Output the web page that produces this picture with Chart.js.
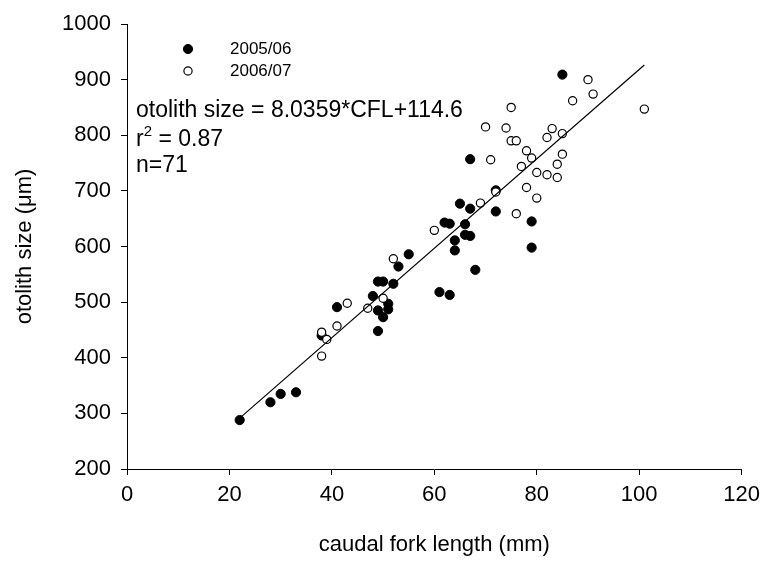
<!DOCTYPE html>
<html>
<head>
<meta charset="utf-8">
<title>otolith size vs caudal fork length</title>
<script src="https://cdn.jsdelivr.net/npm/chart.js@4.4.0/dist/chart.umd.min.js"></script>
<style>
    body { margin: 0; background: #fff; }
    canvas { display: block; }
</style>
</head>
<body>
<canvas id="myChart" width="767" height="563"></canvas>
<script>
// caudal fork length (mm) and otolith size (µm), season 2005/06
const cfl0506 = [22, 28, 30, 33, 38, 41, 48, 49, 50, 49, 51, 51, 50, 49, 52, 53, 55, 62,
    63, 66, 66, 67, 64, 64, 68, 61, 63, 65, 67, 72, 79, 79, 85, 67, 72];
const size0506 = [288, 320, 335, 338, 440, 491, 511, 537, 537, 485, 497, 487, 473, 448, 533, 564, 586, 643,
    641, 640, 621, 619, 611, 593, 558, 518, 513, 677, 668, 663, 645, 598, 909, 757, 701];

// season 2006/07
const cfl0607 = [38, 38, 39, 41, 43, 47, 50, 52, 60, 69, 76, 90, 91, 87, 75, 70, 74, 83,
    82, 85, 75, 76, 78, 79, 71, 85, 84, 77, 80, 82, 84, 78, 72, 80, 101];
const size0607 = [403, 446, 433, 457, 498, 489, 507, 578, 629, 678, 659, 900, 874, 862, 850, 815, 813, 812,
    796, 803, 790, 790, 772, 759, 756, 766, 748, 744, 733, 729, 724, 706, 698, 687, 847];

const seasons = ['2005/06', '2006/07'];

// regression over both seasons
const slope = 8.0359;
const intercept = 114.6;
const r2 = 0.87;
const nFish = 71;
const fitRange = [22, 101];

const xTicks = [0, 20, 40, 60, 80, 100, 120];
const yTicks = [200, 300, 400, 500, 600, 700, 800, 900, 1000];

const FONT = 'Liberation Sans, Arial, sans-serif';

function toPoints(xs, ys) {
    return xs.map((x, i) => ({ x: x, y: ys[i] }));
}

const fitLine = fitRange.map(x => ({ x: x, y: slope * x + intercept }));

// legend and regression text in the upper left of the plot
const notes = {
    id: 'notes',
    afterDatasetsDraw(chart) {
        const ctx = chart.ctx;
        const area = chart.chartArea;
        ctx.save();
        ctx.fillStyle = '#000';
        ctx.textBaseline = 'middle';

        // legend
        const lx = area.left + 61;
        const tx = area.left + 103;
        const rows = [area.top + 25, area.top + 47];
        chart.data.datasets.slice(0, 2).forEach((ds, i) => {
            ctx.beginPath();
            ctx.arc(lx, rows[i], ds.pointRadius, 0, Math.PI * 2);
            ctx.fillStyle = ds.backgroundColor;
            ctx.fill();
            ctx.lineWidth = ds.borderWidth;
            ctx.strokeStyle = ds.borderColor;
            ctx.stroke();
            ctx.fillStyle = '#000';
            ctx.font = '17px ' + FONT;
            ctx.fillText(seasons[i], tx, rows[i]);
        });

        // equation, r², n
        const ex = area.left + 9;
        ctx.textBaseline = 'alphabetic';
        ctx.font = '23px ' + FONT;
        ctx.fillText('otolith size = ' + slope.toFixed(4) + '*CFL+' + intercept, ex, area.top + 93);

        let y2 = area.top + 122;
        ctx.fillText('r', ex, y2);
        let w = ctx.measureText('r').width;
        ctx.font = '15px ' + FONT;
        ctx.fillText('2', ex + w, y2 - 10);
        w += ctx.measureText('2').width;
        ctx.font = '23px ' + FONT;
        ctx.fillText(' = ' + r2, ex + w, y2);

        ctx.fillText('n=' + nFish, ex, area.top + 148);
        ctx.restore();
    }
};

const ctx = document.getElementById('myChart');

new Chart(ctx, {
    type: 'scatter',
    data: {
        datasets: [{
            label: seasons[0],
            data: toPoints(cfl0506, size0506),
            pointRadius: 4.6,
            pointHoverRadius: 4.6,
            backgroundColor: '#000',
            borderColor: '#000',
            borderWidth: 1,
            order: 2
        }, {
            label: seasons[1],
            data: toPoints(cfl0607, size0607),
            pointRadius: 4.1,
            pointHoverRadius: 4.1,
            backgroundColor: '#fff',
            borderColor: '#000',
            borderWidth: 1.2,
            order: 1
        }, {
            label: 'fit',
            data: fitLine,
            showLine: true,
            pointRadius: 0,
            borderColor: '#000',
            borderWidth: 1.2,
            order: 0
        }]
    },
    options: {
        responsive: false,
        animation: false,
        events: [],
        layout: {
            padding: { top: 24, right: 22, left: 0, bottom: 0 }
        },
        plugins: {
            legend: { display: false },
            tooltip: { enabled: false }
        },
        scales: {
            x: {
                type: 'linear',
                min: 0,
                max: 120,
                afterBuildTicks: axis => { axis.ticks = xTicks.map(v => ({ value: v })); },
                afterFit: axis => { axis.height = 94; },
                grid: { drawOnChartArea: false, drawTicks: true, tickLength: 6, color: '#000' },
                border: { display: true, color: '#000', width: 1 },
                ticks: {
                    color: '#000',
                    padding: 7,
                    maxRotation: 0,
                    font: { family: FONT, size: 22 },
                    callback: v => String(v)
                },
                title: {
                    display: true,
                    text: 'caudal fork length (mm)',
                    color: '#000',
                    padding: { top: 0, bottom: 5 },
                    font: { family: FONT, size: 22 }
                }
            },
            y: {
                type: 'linear',
                min: 200,
                max: 1000,
                afterBuildTicks: axis => { axis.ticks = yTicks.map(v => ({ value: v })); },
                afterFit: axis => { axis.width = 127; },
                grid: { drawOnChartArea: false, drawTicks: true, tickLength: 6, color: '#000' },
                border: { display: true, color: '#000', width: 1 },
                ticks: {
                    color: '#000',
                    padding: 10,
                    font: { family: FONT, size: 22 },
                    callback: v => String(v)
                },
                title: {
                    display: true,
                    text: 'otolith size (\u03bcm)',
                    color: '#000',
                    padding: { top: 12, bottom: 0 },
                    font: { family: FONT, size: 22 }
                }
            }
        }
    },
    plugins: [notes]
});
</script>
</body>
</html>
